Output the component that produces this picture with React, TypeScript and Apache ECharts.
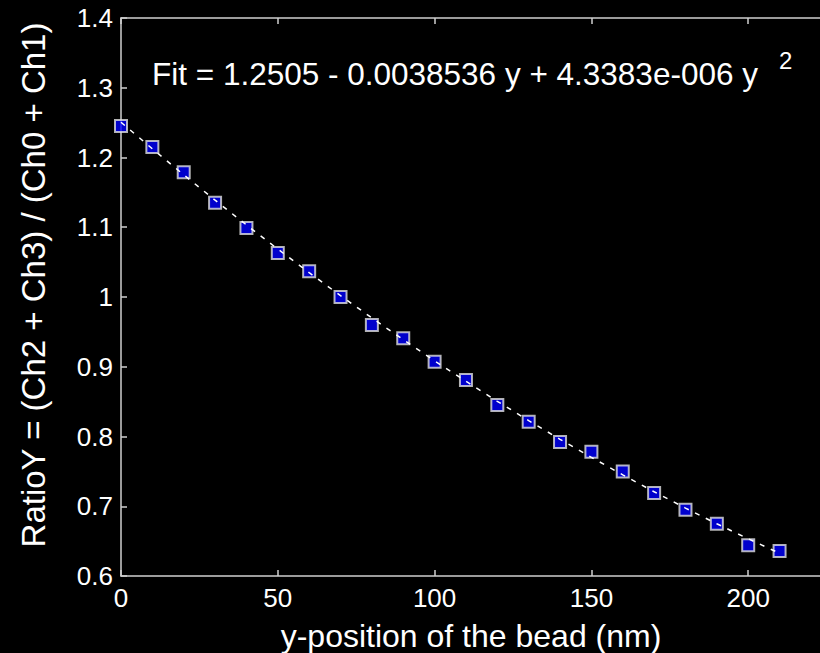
import React, { useEffect, useRef } from "react";
import * as echarts from "echarts";

const positions = [0, 10, 20, 30, 40, 50, 60, 70, 80, 90, 100, 110, 120, 130, 140, 150, 160, 170, 180, 190, 200, 210];
const ratioY = [1.245, 1.215, 1.179, 1.135, 1.099, 1.063, 1.037, 1.0, 0.96, 0.941, 0.907, 0.881, 0.845, 0.821, 0.792, 0.778, 0.75, 0.719, 0.695, 0.675, 0.644, 0.636];
const fitY = [1.2505, 1.2124, 1.1752, 1.1388, 1.1033, 1.0687, 1.0349, 1.002, 0.97, 0.9388, 0.9085, 0.8791, 0.8505, 0.8228, 0.796, 0.7701, 0.745, 0.7208, 0.6974, 0.6749, 0.6533, 0.6326];
const xTicks = { min: 0, max: 250, interval: 50 };
const yTicks = { min: 0.6, max: 1.4, interval: 0.1 };
const fitText = "Fit = 1.2505 - 0.0038536 y + 4.3383e-006 y";
const fitSup = "2";
const xTitle = "y-position of the bead (nm)";
const yTitle = "RatioY = (Ch2 + Ch3) / (Ch0 + Ch1)";

const FONT = "'Liberation Sans', Arial, sans-serif";
const AX = "#cfcfcf";
const CHART_W = 1000;

export default function App() {
  const ref = useRef<HTMLDivElement>(null);
  useEffect(() => {
    if (!ref.current) return;
    const chart = echarts.init(ref.current, undefined, { renderer: "svg" });
    const axisCommon = {
      axisLine: { show: true, lineStyle: { color: AX, width: 1.5 } },
      axisTick: { show: true, inside: true, length: 6, lineStyle: { color: AX, width: 1.5 } },
      splitLine: { show: false },
    };
    chart.setOption({
      animation: false,
      backgroundColor: "#000000",
      grid: { left: 121, top: 18, bottom: 77, right: CHART_W - 905, containLabel: false },
      xAxis: [
        {
          type: "value",
          position: "bottom",
          min: xTicks.min,
          max: xTicks.max,
          interval: xTicks.interval,
          ...axisCommon,
          axisLabel: { color: "#ffffff", fontSize: 26, fontFamily: FONT, margin: 9, showMaxLabel: false },
        },
        {
          type: "value",
          position: "top",
          min: xTicks.min,
          max: xTicks.max,
          interval: xTicks.interval,
          ...axisCommon,
          axisLabel: { show: false },
        },
      ],
      yAxis: {
        type: "value",
        min: yTicks.min,
        max: yTicks.max,
        interval: yTicks.interval,
        ...axisCommon,
        axisLabel: {
          color: "#ffffff",
          fontSize: 26,
          fontFamily: FONT,
          margin: 8,
          formatter: (v: number) => String(Math.round(v * 10) / 10),
        },
      },
      series: [
        {
          type: "scatter",
          data: positions.map((x, i) => [x, ratioY[i]]),
          symbol: "rect",
          symbolSize: 12,
          itemStyle: { color: "#0000ff", borderColor: "#e0e0e0", borderWidth: 2 },
          z: 2,
        },
        {
          type: "line",
          data: positions.map((x, i) => [x, fitY[i]]),
          showSymbol: false,
          symbol: "none",
          smooth: false,
          lineStyle: { color: "#ffffff", width: 1.5, type: [5, 7] },
          z: 3,
        },
      ],
      graphic: [
        {
          type: "text",
          left: 152,
          top: 58,
          style: { text: fitText, fill: "#ffffff", fontSize: 31.5, fontFamily: FONT },
        },
        {
          type: "text",
          left: 779,
          top: 48,
          style: { text: fitSup, fill: "#ffffff", fontSize: 24, fontFamily: FONT },
        },
        {
          type: "text",
          x: 471,
          y: 636,
          style: { text: xTitle, fill: "#ffffff", fontSize: 32, fontFamily: FONT, align: "center", verticalAlign: "middle" },
        },
        {
          type: "text",
          x: 33,
          y: 285,
          rotation: Math.PI / 2,
          style: { text: yTitle, fill: "#ffffff", fontSize: 33, fontFamily: FONT, align: "center", verticalAlign: "middle" },
        },
      ],
    });
    return () => chart.dispose();
  }, []);
  return (
    <div style={{ position: "fixed", left: 0, top: 0, width: 820, height: 653, overflow: "hidden", background: "#000" }}>
      <div ref={ref} style={{ width: CHART_W, height: 653 }} />
    </div>
  );
}
